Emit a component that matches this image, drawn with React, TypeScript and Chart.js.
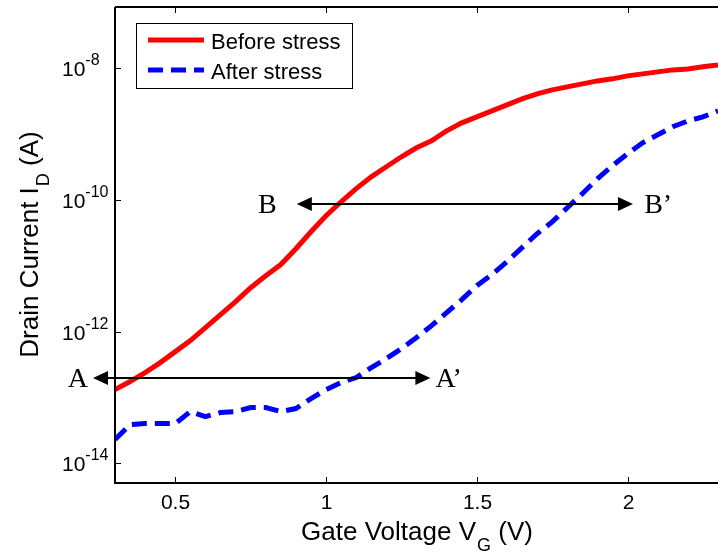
import React, { useEffect, useRef } from "react";
import { Chart, registerables } from "chart.js";

Chart.register(...registerables);

// ---- Data ----
const gateVoltage = [
  0.3, 0.35, 0.4, 0.45, 0.5, 0.55, 0.6, 0.65, 0.7, 0.75, 0.8, 0.85, 0.9, 0.95,
  1.0, 1.05, 1.1, 1.15, 1.2, 1.25, 1.3, 1.35, 1.4, 1.45, 1.5, 1.55, 1.6, 1.65,
  1.7, 1.75, 1.8, 1.85, 1.9, 1.95, 2.0, 2.05, 2.1, 2.15, 2.2, 2.25, 2.3,
];
const beforeStress = [
  1.31e-13, 1.74e-13, 2.38e-13, 3.37e-13, 4.95e-13, 7.28e-13, 1.15e-12, 1.8e-12,
  2.84e-12, 4.63e-12, 7.05e-12, 1.04e-11, 1.81e-11, 3.28e-11, 5.74e-11, 9.35e-11,
  1.48e-10, 2.24e-10, 3.18e-10, 4.51e-10, 6.18e-10, 7.89e-10, 1.12e-9, 1.48e-9,
  1.82e-9, 2.25e-9, 2.77e-9, 3.42e-9, 4.07e-9, 4.69e-9, 5.2e-9, 5.78e-9, 6.41e-9,
  6.89e-9, 7.64e-9, 8.2e-9, 8.79e-9, 9.42e-9, 9.75e-9, 1.05e-8, 1.12e-8,
];
const afterStress = [
  2.29e-14, 3.86e-14, 4.0e-14, 4.0e-14, 4.0e-14, 6.08e-14, 5.11e-14, 5.87e-14,
  6.08e-14, 7.0e-14, 7.0e-14, 6.08e-14, 6.76e-14, 9.59e-14, 1.31e-13, 1.68e-13,
  2.0e-13, 2.83e-13, 3.88e-13, 5.51e-13, 8.09e-13, 1.23e-12, 1.94e-12, 3.05e-12,
  4.98e-12, 7.31e-12, 1.15e-11, 1.88e-11, 3.06e-11, 4.62e-11, 7.59e-11, 1.24e-10,
  2.09e-10, 3.3e-10, 5.01e-10, 7.36e-10, 9.73e-10, 1.29e-9, 1.58e-9, 1.82e-9,
  2.25e-9,
];
const seriesNames = ["Before stress", "After stress"];

const xTickValues = [0.5, 1, 1.5, 2];
const xTickLabels = ["0.5", "1", "1.5", "2"];
const yTickExponents = [-8, -10, -12, -14];

const xTitleMain = "Gate Voltage V";
const xTitleSub = "G";
const xTitleTail = " (V)";
const yTitleMain = "Drain Current I";
const yTitleSub = "D";
const yTitleTail = " (A)";

// Annotation arrows (double-headed)
const arrowCurrent = [2.0e-13, 8.7e-11];
const arrowLeftV = [0.227, 0.903];
const arrowRightV = [1.346, 2.018];
const arrowLeftLabels = ["A", "B"];
const arrowRightLabels = ["A\u2019", "B\u2019"];
const leftLabelEdgeV = [0.2106, 0.8364];
const rightLabelEdgeV = [1.363, 2.055];

const SANS = "'Liberation Sans', Arial, Helvetica, sans-serif";
const SERIF = "'Liberation Serif', 'Times New Roman', serif";
const DASH = [15, 8];

const decorPlugin = {
  id: "decor",
  afterDatasetsDraw(chart: any) {
    const { ctx, chartArea: a, scales } = chart;
    const xs = scales.x;
    const ys = scales.y;
    ctx.save();

    // --- annotation arrows ---
    ctx.strokeStyle = "#000";
    ctx.fillStyle = "#000";
    ctx.lineWidth = 2;
    ctx.setLineDash([]);
    const headL = 15;
    const headW = 7;
    arrowCurrent.forEach((cur, i) => {
      const py = Math.round(ys.getPixelForValue(cur));
      const x1 = xs.getPixelForValue(arrowLeftV[i]);
      const x2 = xs.getPixelForValue(arrowRightV[i]);
      ctx.beginPath();
      ctx.moveTo(x1 + headL - 1, py);
      ctx.lineTo(x2 - headL + 1, py);
      ctx.stroke();
      ctx.beginPath();
      ctx.moveTo(x1, py);
      ctx.lineTo(x1 + headL, py - headW);
      ctx.lineTo(x1 + headL, py + headW);
      ctx.closePath();
      ctx.fill();
      ctx.beginPath();
      ctx.moveTo(x2, py);
      ctx.lineTo(x2 - headL, py - headW);
      ctx.lineTo(x2 - headL, py + headW);
      ctx.closePath();
      ctx.fill();
      ctx.font = `28px ${SERIF}`;
      ctx.textBaseline = "alphabetic";
      ctx.textAlign = "right";
      ctx.fillText(arrowLeftLabels[i], xs.getPixelForValue(leftLabelEdgeV[i]), py + 9);
      ctx.textAlign = "left";
      ctx.fillText(arrowRightLabels[i], xs.getPixelForValue(rightLabelEdgeV[i]), py + 9);
    });

    // --- axes box ---
    ctx.lineWidth = 2;
    ctx.beginPath();
    ctx.moveTo(a.left, a.top);
    ctx.lineTo(a.left, a.bottom);
    ctx.lineTo(a.right + 2, a.bottom);
    ctx.moveTo(a.left, a.top);
    ctx.lineTo(a.right + 2, a.top);
    ctx.stroke();

    // ticks
    ctx.lineWidth = 1;
    const tl = 6;
    xTickValues.forEach((v, i) => {
      const px = Math.round(xs.getPixelForValue(v)) + 0.5;
      ctx.beginPath();
      ctx.moveTo(px, a.bottom);
      ctx.lineTo(px, a.bottom - tl);
      ctx.moveTo(px, a.top);
      ctx.lineTo(px, a.top + tl);
      ctx.stroke();
      ctx.font = `21px ${SANS}`;
      ctx.textAlign = "center";
      ctx.textBaseline = "alphabetic";
      ctx.fillText(xTickLabels[i], px, a.bottom + 26);
    });
    yTickExponents.forEach((e) => {
      const py = Math.round(ys.getPixelForValue(Math.pow(10, e))) + 0.5;
      ctx.beginPath();
      ctx.moveTo(a.left, py);
      ctx.lineTo(a.left + tl, py);
      ctx.stroke();
      ctx.textAlign = "left";
      ctx.textBaseline = "alphabetic";
      ctx.font = `21px ${SANS}`;
      const bx = 62;
      ctx.fillText("10", bx, py + 7.5);
      const w = ctx.measureText("10").width;
      ctx.font = `16px ${SANS}`;
      ctx.fillText(String(e).replace("-", "-"), bx + w, py - 3.5);
    });

    // --- axis titles ---
    const mainF = `26px ${SANS}`;
    const subF = `18px ${SANS}`;
    // x title
    ctx.textAlign = "left";
    ctx.textBaseline = "alphabetic";
    ctx.font = mainF;
    const xw1 = ctx.measureText(xTitleMain).width;
    const xw3 = ctx.measureText(xTitleTail).width;
    ctx.font = subF;
    const xw2 = ctx.measureText(xTitleSub).width;
    const xc = (a.left + a.right) / 2;
    let sx = xc - (xw1 + xw2 + xw3) / 2;
    const xb = 540;
    ctx.font = mainF;
    ctx.fillText(xTitleMain, sx, xb);
    ctx.font = subF;
    ctx.fillText(xTitleSub, sx + xw1 + 1, xb + 11);
    ctx.font = mainF;
    ctx.fillText(xTitleTail, sx + xw1 + xw2 + 1, xb);

    // y title
    ctx.save();
    const yc = (a.top + a.bottom) / 2;
    ctx.translate(38, yc);
    ctx.rotate(-Math.PI / 2);
    ctx.font = mainF;
    const yw1 = ctx.measureText(yTitleMain).width;
    const yw3 = ctx.measureText(yTitleTail).width;
    ctx.font = subF;
    const yw2 = ctx.measureText(yTitleSub).width;
    let sy = -(yw1 + yw2 + yw3) / 2;
    ctx.font = mainF;
    ctx.fillText(yTitleMain, sy, 0);
    ctx.font = subF;
    ctx.fillText(yTitleSub, sy + yw1 + 1, 11);
    ctx.font = mainF;
    ctx.fillText(yTitleTail, sy + yw1 + yw2 + 1, 0);
    ctx.restore();

    // --- legend ---
    const lx = 136.5, ly = 23.5, lw = 216, lh = 65;
    ctx.fillStyle = "#fff";
    ctx.fillRect(lx, ly, lw, lh);
    ctx.strokeStyle = "#000";
    ctx.lineWidth = 1;
    ctx.strokeRect(lx, ly, lw, lh);
    const colors = ["#ff0000", "#0000ff"];
    const rows = [40, 70];
    seriesNames.forEach((name, i) => {
      ctx.strokeStyle = colors[i];
      ctx.lineWidth = 5;
      ctx.lineCap = "butt";
      ctx.setLineDash(i === 1 ? DASH : []);
      ctx.beginPath();
      ctx.moveTo(148, rows[i]);
      ctx.lineTo(204, rows[i]);
      ctx.stroke();
      ctx.setLineDash([]);
      ctx.fillStyle = "#000";
      ctx.font = `22px ${SANS}`;
      ctx.textAlign = "left";
      ctx.textBaseline = "alphabetic";
      ctx.fillText(name, 211, rows[i] + 8.5);
    });

    ctx.restore();
  },
};

export default function App() {
  const ref = useRef<HTMLCanvasElement | null>(null);
  useEffect(() => {
    if (!ref.current) return;
    const chart = new Chart(ref.current, {
      type: "line",
      data: {
        datasets: [
          {
            label: seriesNames[0],
            data: gateVoltage.map((v, i) => ({ x: v, y: beforeStress[i] })),
            borderColor: "#ff0000",
            borderWidth: 5,
            pointRadius: 0,
            tension: 0,
            fill: false,
          },
          {
            label: seriesNames[1],
            data: gateVoltage.map((v, i) => ({ x: v, y: afterStress[i] })),
            borderColor: "#0000ff",
            borderWidth: 5,
            borderDash: DASH,
            borderCapStyle: "butt",
            pointRadius: 0,
            tension: 0,
            fill: false,
          },
        ],
      },
      options: {
        responsive: false,
        animation: false,
        layout: { padding: { left: 115, top: 7, right: 0, bottom: 71 } },
        scales: {
          x: { type: "linear", min: 0.3, max: 2.3, display: false },
          y: { type: "logarithmic", min: 5e-15, max: 8.5e-8, display: false },
        },
        plugins: {
          legend: { display: false },
          tooltip: { enabled: false },
          title: { display: false },
        },
      },
      plugins: [decorPlugin],
    } as any);
    return () => chart.destroy();
  }, []);
  return (
    <div style={{ position: "fixed", left: 0, top: 0, width: 718, height: 554, background: "#fff" }}>
      <canvas ref={ref} width={718} height={554} style={{ display: "block" }} />
    </div>
  );
}
